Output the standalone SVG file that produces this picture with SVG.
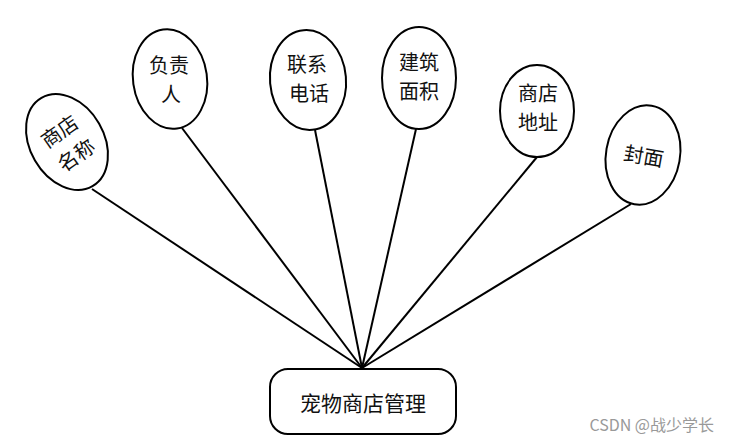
<svg xmlns="http://www.w3.org/2000/svg" width="730" height="448" viewBox="0 0 730 448">
<defs>
<style>
.e{fill:#fff;stroke:#000;stroke-width:2}
.t{font-family:"Noto Sans CJK SC","Liberation Sans",sans-serif;font-size:20px;fill:#111;text-anchor:middle;dominant-baseline:central}
.c{stroke:#000;stroke-width:2;fill:none}
</style>
</defs>
<rect width="730" height="448" fill="#fff"/>
<g id="connectors">
<line class="c" x1="92" y1="189" x2="362" y2="368"/>
<line class="c" x1="182" y1="128" x2="362" y2="368"/>
<line class="c" x1="315" y1="130" x2="362" y2="368"/>
<line class="c" x1="416" y1="129" x2="362" y2="368"/>
<line class="c" x1="537" y1="157" x2="362" y2="368"/>
<line class="c" x1="631" y1="204" x2="362" y2="368"/>
</g>
<g id="n1">
<ellipse class="e" cx="67" cy="142" rx="37" ry="51" transform="rotate(-30 67 142)"/>
<g transform="rotate(-35 67 142)">
<text class="t" x="67" y="128">商店</text>
<text class="t" x="67" y="157">名称</text>
</g>
</g>
<g id="n2">
<ellipse class="e" cx="170" cy="79" rx="37" ry="50" transform="rotate(-8 170 79)"/>
<text class="t" x="169" y="64">负责</text>
<text class="t" x="171" y="93">人</text>
</g>
<g id="n3">
<ellipse class="e" cx="308" cy="80" rx="38" ry="50" transform="rotate(-5 308 80)"/>
<text class="t" x="307" y="63">联系</text>
<text class="t" x="309" y="92">电话</text>
</g>
<g id="n4">
<ellipse class="e" cx="419" cy="78" rx="37" ry="51"/>
<text class="t" x="419" y="61">建筑</text>
<text class="t" x="419" y="90">面积</text>
</g>
<g id="n5">
<ellipse class="e" cx="537" cy="111" rx="37" ry="46"/>
<text class="t" x="538" y="92">商店</text>
<text class="t" x="538" y="121">地址</text>
</g>
<g id="n6">
<ellipse class="e" cx="643" cy="155" rx="37" ry="50" transform="rotate(10 643 155)"/>
<text class="t" x="644" y="155" transform="rotate(10 644 155)">封面</text>
</g>
<g id="root">
<rect class="e" x="270" y="369" width="186" height="65" rx="18"/>
<text class="t" x="363" y="402" style="font-size:21px">宠物商店管理</text>
</g>
<text x="714" y="431" style="font-family:'Noto Sans CJK SC','Liberation Sans',sans-serif;font-size:16px;fill:#999;text-anchor:end">CSDN @战少学长</text>
</svg>
